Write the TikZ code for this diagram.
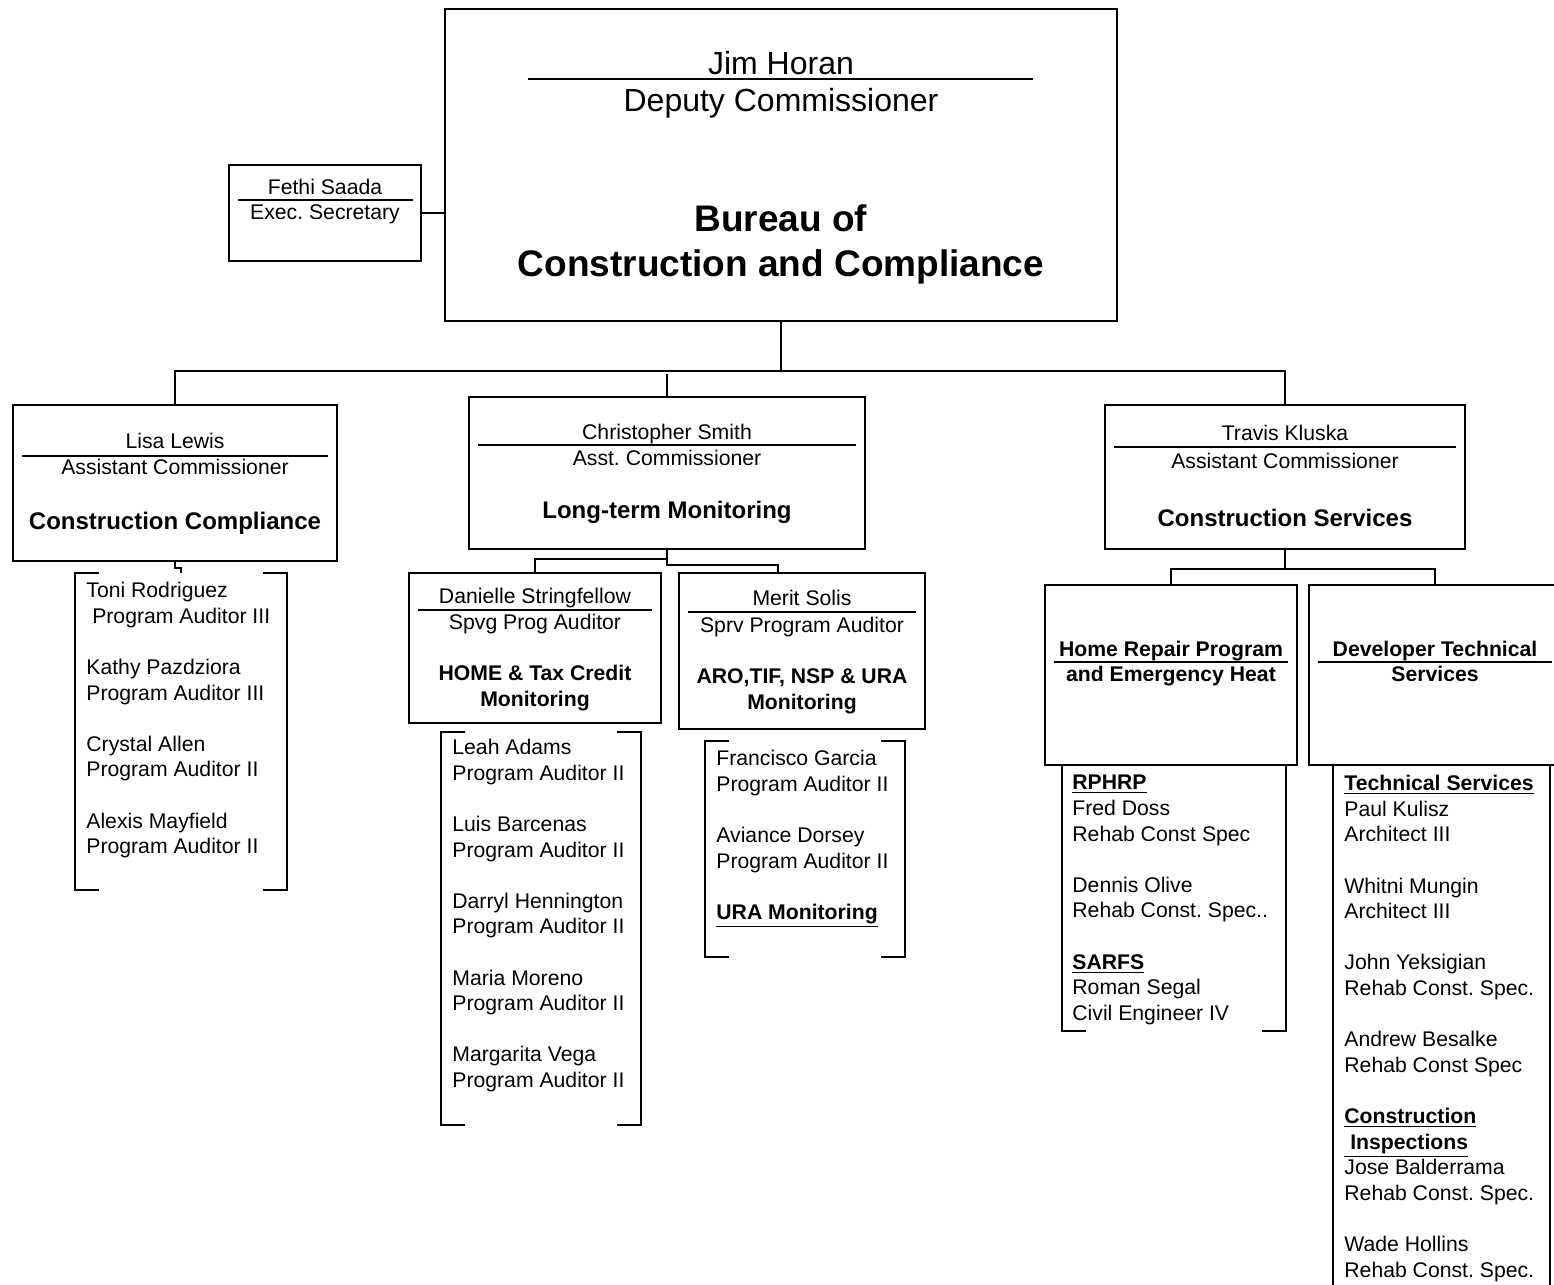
\documentclass[tikz,border=0pt]{standalone}
\usepackage{fontspec}
\setmainfont{Liberation Sans}
\usetikzlibrary{fit}
\frenchspacing

\newcommand\bodysize{\fontsize{10.6}{12.8}\selectfont}
\newcommand\headsize{\fontsize{12}{14}\selectfont\bfseries}
\newcommand\subheadsize{\fontsize{10.6}{12.8}\selectfont\bfseries}
\newcommand\topnamesize{\fontsize{16}{19}\selectfont}
\newcommand\topheadsize{\fontsize{18.5}{22.5}\selectfont\bfseries}
\newcommand\ulhead[1]{\underline{\textbf{#1}}}

\tikzset{
  box/.style={draw, line width=1pt, inner sep=0pt},
  link/.style={line width=1pt},
  rule/.style={line width=0.7pt},
  brack/.style={line width=1pt},
  txt/.style={inner sep=0pt, font=\bodysize, anchor=base},
  list/.style={inner sep=0pt, font=\bodysize, align=left, anchor=north west},
}

\begin{document}
\begin{tikzpicture}[x=0.5pt, y=-0.5pt]
\fill[white] (0,0) rectangle (1554,1285);
\useasboundingbox (0,0) rectangle (1554,1285);

% boxes
\node[box, fit={(445,9) (1117,321)}] (top) {};
\node[box, fit={(229,165) (421,261)}] (fethi) {};
\node[box, fit={(13,405) (337,561)}] (lisa) {};
\node[box, fit={(469,397) (865,549)}] (chris) {};
\node[box, fit={(1105,405) (1465,549)}] (travis) {};
\node[box, fit={(409,573) (661,723)}] (dani) {};
\node[box, fit={(679,573) (925,729)}] (merit) {};
\node[box, fit={(1045,585) (1297,765)}] (home) {};
\node[box, fit={(1309,585) (1561,765)}] (dev) {};

% deputy commissioner
\node[txt, font=\topnamesize] (jim) at (781,74) {Jim Horan};
\draw[rule] (528,79) -- (1033,79);
\node[txt, font=\topnamesize] (jimtitle) at (781,111) {Deputy Commissioner};
\node[txt, font=\topheadsize] (bureau1) at (781,231) {Bureau of};
\node[txt, font=\topheadsize] (bureau2) at (781,276) {Construction and Compliance};

\node[txt] (fethiname) at (325,194.5) {Fethi Saada};
\draw[rule] (238,200) -- (413,200);
\node[txt] (fethititle) at (325,219.5) {Exec. Secretary};

% assistant commissioners
\node[txt] (lisaname) at (175,448.5) {Lisa Lewis};
\draw[rule] (22,456) -- (328,456);
\node[txt] (lisatitle) at (175,474.5) {Assistant Commissioner};
\node[txt, font=\headsize] (lisaunit) at (175,529.5) {Construction Compliance};

\node[txt] (chrisname) at (667,439.5) {Christopher Smith};
\draw[rule] (478,445) -- (856,445);
\node[txt] (christitle) at (667,465.5) {Asst. Commissioner};
\node[txt, font=\headsize] (chrisunit) at (667,518.5) {Long-term Monitoring};

\node[txt] (travisname) at (1285,440.5) {Travis Kluska};
\draw[rule] (1114,447) -- (1456,447);
\node[txt] (travistitle) at (1285,468.5) {Assistant Commissioner};
\node[txt, font=\headsize] (travisunit) at (1285,526.5) {Construction Services};

% supervisors and programs
\node[txt] (daniname) at (535,603.5) {Danielle Stringfellow};
\draw[rule] (418,610) -- (652,610);
\node[txt] (danititle) at (535,629.5) {Spvg Prog Auditor};
\node[txt, font=\subheadsize] (daniunit1) at (535,680.5) {HOME \& Tax Credit};
\node[txt, font=\subheadsize] (daniunit2) at (535,706.5) {Monitoring};

\node[txt] (meritname) at (802,605.5) {Merit Solis};
\draw[rule] (688,612) -- (916,612);
\node[txt] (merittitle) at (802,632.5) {Sprv Program Auditor};
\node[txt, font=\subheadsize] (meritunit1) at (802,683.5) {ARO,TIF, NSP \& URA};
\node[txt, font=\subheadsize] (meritunit2) at (802,709.5) {Monitoring};

\node[txt, font=\subheadsize] (home1) at (1171,656.5) {Home Repair Program};
\draw[rule] (1054,662) -- (1288,662);
\node[txt, font=\subheadsize] (home2) at (1171,681.5) {and Emergency Heat};

\node[txt, font=\subheadsize] (dev1) at (1435,656.5) {Developer Technical};
\draw[rule] (1318,662) -- (1552,662);
\node[txt, font=\subheadsize] (dev2) at (1435,681.5) {Services};

% staff lists
\node[list] (lisastaff) at (86,582) {Toni Rodriguez\\ ~Program Auditor III\\[12.8pt]
  Kathy Pazdziora\\ Program Auditor III\\[12.8pt]
  Crystal Allen\\ Program Auditor II\\[12.8pt]
  Alexis Mayfield\\ Program Auditor II};
\draw[brack] (99,573) -| (75,890) -- (99,890);
\draw[brack] (263,573) -| (287,890) -- (263,890);

\node[list] (danistaff) at (452,739) {Leah Adams\\ Program Auditor II\\[12.8pt]
  Luis Barcenas\\ Program Auditor II\\[12.8pt]
  Darryl Hennington\\ Program Auditor II\\[12.8pt]
  Maria Moreno\\ Program Auditor II\\[12.8pt]
  Margarita Vega\\ Program Auditor II};
\draw[brack] (465,732) -| (441,1125) -- (465,1125);
\draw[brack] (617,732) -| (641,1125) -- (617,1125);

\node[list] (meritstaff) at (716,750) {Francisco Garcia\\ Program Auditor II\\[12.8pt]
  Aviance Dorsey\\ Program Auditor II\\[12.8pt]
  \ulhead{URA Monitoring}};
\draw[brack] (729,741) -| (705,957) -- (729,957);
\draw[brack] (881,741) -| (905,957) -- (881,957);

\node[list] (homestaff) at (1072,775) {\ulhead{RPHRP}\\ Fred Doss\\ Rehab Const Spec\\[12.8pt]
  Dennis Olive\\ Rehab Const. Spec..\\[12.8pt]
  \ulhead{SARFS}\\ Roman Segal\\ Civil Engineer IV};
\draw[brack] (1062,765) -- (1062,1031) -- (1086,1031);
\draw[brack] (1286,765) -- (1286,1031) -- (1262,1031);

\node[list] (devstaff) at (1344,775) {\ulhead{Technical Services}\\ Paul Kulisz\\ Architect III\\[12.8pt]
  Whitni Mungin\\ Architect III\\[12.8pt]
  John Yeksigian\\ Rehab Const. Spec.\\[12.8pt]
  Andrew Besalke\\ Rehab Const Spec\\[12.8pt]
  \ulhead{Construction}\\ \ulhead{~Inspections}\\ Jose Balderrama\\ Rehab Const. Spec.\\[12.8pt]
  Wade Hollins\\ Rehab Const. Spec.};
\draw[brack] (1333,765) -- (1333,1300);
\draw[brack] (1550,765) -- (1550,1300);

% connectors
\draw[link] (fethi.east) -- (fethi.east -| top.west);
\draw[link] (top.south) -- ++(0,49) coordinate (bus);
\draw[link] (lisa.north) |- (bus) -| (travis.north);
\draw[link] (chris.north) -- ++(0,-22);
\coordinate (lisatop) at (181,573);
\draw[link] (lisa.south) -- ++(0,6) -| (lisatop);
\draw[link] (chris.south) -- ++(0,9) coordinate (cbus) -| (dani.north);
\draw[link] (cbus) -- ++(0,6) -| ([xshift=50pt]merit.north west);
\draw[link] (travis.south) -- ++(0,19) coordinate (tbus);
\draw[link] (home.north) |- (tbus) -| (dev.north);
\end{tikzpicture}
\end{document}
